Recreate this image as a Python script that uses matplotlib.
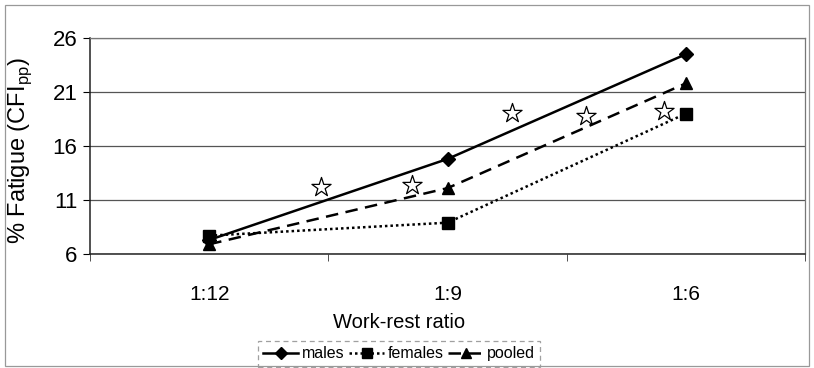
import numpy as np
import matplotlib.pyplot as plt
from matplotlib.patches import Rectangle

plt.rcParams['font.family'] = ['Liberation Sans', 'DejaVu Sans']

ratios = ['1:12', '1:9', '1:6']
males = [7.3, 14.8, 24.5]
females = [7.7, 8.9, 19.0]
pooled = [6.9, 12.1, 21.8]

# individual observations plotted as open stars (x in category units)
star_x = [0.47, 0.85, 1.27, 1.58, 1.91]
star_y = [12.2, 12.4, 19.1, 18.8, 19.2]

yticks = [6, 11, 16, 21, 26]

fig = plt.figure(figsize=(8.14, 3.68), dpi=100)
ax = fig.add_axes([0.1106, 0.3098, 0.8784, 0.5869])

x = np.arange(len(ratios))
ax.plot(x, males, color='black', lw=1.8, ls='-', marker='D', ms=7, label='males', zorder=3)
ax.plot(x, females, color='black', lw=1.8, ls=(0, (1, 1.2)), marker='s', ms=9, label='females', zorder=3)
ax.plot(x, pooled, color='black', lw=1.8, ls=(0, (5, 3)), marker='^', ms=9, label='pooled', zorder=3)
ax.scatter(star_x, star_y, marker='*', s=210, facecolor='white', edgecolor='black', linewidths=0.9, zorder=4)

ax.set_xlim(-0.5, 2.5)
ax.set_ylim(6, 26)
ax.set_yticks(yticks)
ax.set_xticks(x)
ax.set_xticks([-0.5, 0.5, 1.5, 2.5], minor=True)
ax.set_xticklabels(ratios)
ax.tick_params(axis='x', which='major', length=0, pad=22, labelsize=15)
ax.tick_params(axis='x', which='minor', length=5, color='#333333')
ax.tick_params(axis='y', length=5, labelsize=16, pad=4)
ax.yaxis.grid(True, color='#555555', lw=0.9)
ax.set_axisbelow(True)

for side in ['top', 'right']:
    ax.spines[side].set_color('#777777')
    ax.spines[side].set_linewidth(0.9)
for side in ['left', 'bottom']:
    ax.spines[side].set_color('#222222')
    ax.spines[side].set_linewidth(1.1)

ax.set_ylabel(r'% Fatigue (CFI$_{\mathregular{pp}}$)', fontsize=17)
ax.yaxis.set_label_coords(-0.079, 0.48)
ax.set_xlabel('Work-rest ratio', fontsize=14.5)
ax.xaxis.set_label_coords(0.432, -0.275)

leg = ax.legend(loc='lower center', bbox_to_anchor=(0.432, -0.523), ncol=3, fontsize=11.5,
                frameon=True, fancybox=False, handlelength=2.2, handletextpad=0.2,
                columnspacing=0.3, borderpad=0.35, borderaxespad=0, markerscale=0.85)
leg.get_frame().set_edgecolor('#888888')
leg.get_frame().set_linestyle((0, (4, 3)))
leg.get_frame().set_linewidth(0.9)

# thin border round the whole figure
fig.patches.append(Rectangle((0.006, 0.006), 0.988, 0.981, transform=fig.transFigure,
                             fill=False, edgecolor='#999999', lw=0.9))

fig.savefig('out.png', dpi=100)
